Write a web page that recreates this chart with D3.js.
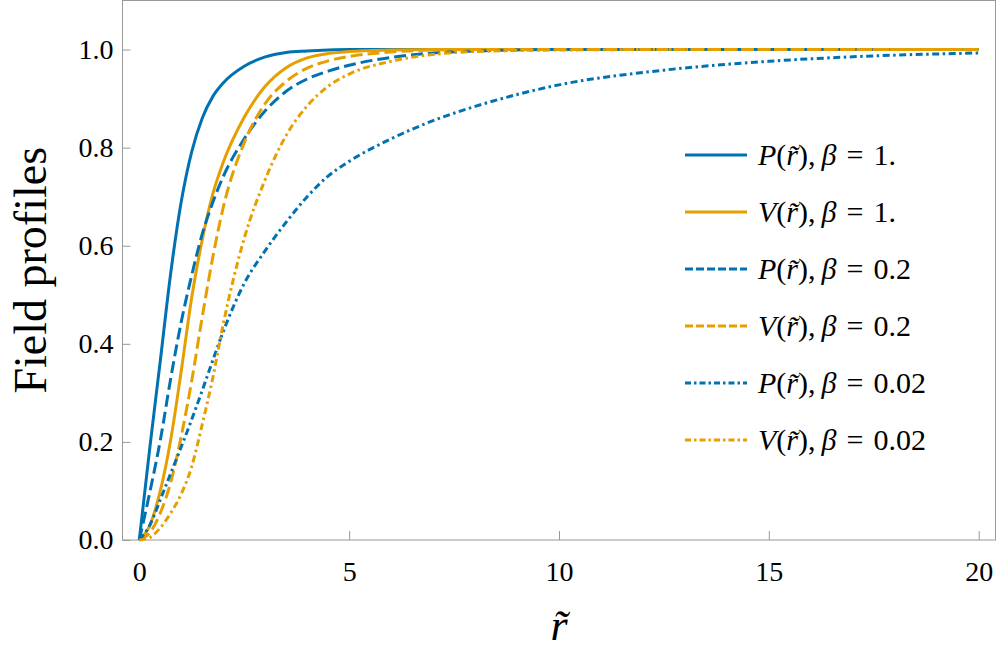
<!DOCTYPE html>
<html>
<head>
<meta charset="utf-8">
<script src="https://cdn.jsdelivr.net/npm/d3@7"></script>
<style>
  body { margin: 0; background: #fff; }
  svg, svg text { font-family: "Liberation Serif", "Times New Roman", serif !important; }
  .axis text { fill: #000; }
</style>
</head>
<body>
<svg width="997" height="662"></svg>
<script>
var rGrid = [0, 0.25, 0.5, 0.75, 1, 1.25, 1.5, 1.75, 2, 2.5, 3, 3.5, 4, 4.5, 5, 6, 7, 8, 10, 12.5, 15, 17.5, 20];

var P_b1   = [0, 0.1875, 0.365, 0.545, 0.69, 0.792, 0.86, 0.904, 0.932, 0.966, 0.985, 0.994, 0.997, 0.999, 1, 1, 1, 1, 1, 1, 1, 1, 1];
var V_b1   = [0, 0.03, 0.10, 0.205, 0.345, 0.495, 0.612, 0.705, 0.77, 0.862, 0.925, 0.963, 0.983, 0.992, 0.996, 0.999, 1, 1, 1, 1, 1, 1, 1];
var P_b02  = [0, 0.097, 0.203, 0.33, 0.445, 0.54, 0.624, 0.688, 0.741, 0.818, 0.875, 0.915, 0.94, 0.956, 0.968, 0.984, 0.993, 0.997, 1, 1, 1, 1, 1];
var V_b02  = [0, 0.015, 0.055, 0.118, 0.212, 0.325, 0.455, 0.576, 0.678, 0.81, 0.89, 0.935, 0.962, 0.977, 0.986, 0.995, 0.999, 1, 1, 1, 1, 1, 1];
var P_b002 = [0, 0.03, 0.082, 0.136, 0.19, 0.246, 0.305, 0.366, 0.425, 0.523, 0.59, 0.648, 0.70, 0.742, 0.772, 0.818, 0.855, 0.884, 0.928, 0.958, 0.976, 0.987, 0.993];
var V_b002 = [0, 0.005, 0.025, 0.055, 0.094, 0.15, 0.236, 0.33, 0.44, 0.615, 0.735, 0.825, 0.885, 0.925, 0.95, 0.976, 0.99, 0.996, 0.999, 1, 1, 1, 1];

var seriesField = ["P", "V", "P", "V", "P", "V"];
var seriesBeta  = ["1.", "1.", "0.2", "0.2", "0.02", "0.02"];
var seriesVals  = [P_b1, V_b1, P_b02, V_b02, P_b002, V_b002];

var xTicks = [0, 5, 10, 15, 20];
var yTicks = [0, 0.2, 0.4, 0.6, 0.8, 1.0];

var blue = "#0072b2", orange = "#e69f00";
var colors = [blue, orange, blue, orange, blue, orange];
var dashPlot = [null, null, "12,5", "12,5", "7,3.5,2.5,3.5", "7,3.5,2.5,3.5"];
var dashKey  = [null, null, "8,3", "8,3", "6,3,2.5,3", "6,3,2.5,3"];

var svg = d3.select("svg"),
    margin = {top: 0.5, right: 1.5, bottom: 122, left: 122.5},
    width = +svg.attr("width") - margin.left - margin.right,
    height = +svg.attr("height") - margin.top - margin.bottom;

var x = d3.scaleLinear().domain([-0.4, 20.4]).range([0, width]);
var y = d3.scaleLinear().domain([0, 1.1]).range([height, 0]);

var g = svg.append("g")
    .attr("transform", "translate(" + margin.left + "," + margin.top + ")");

// x axis, ticks pointing in
var xa = g.append("g")
    .attr("class", "x axis")
    .attr("transform", "translate(0," + height + ")")
    .call(d3.axisBottom(x).tickValues(xTicks).tickSizeInner(-9).tickSizeOuter(0).tickPadding(21));
xa.attr("font-family", null).attr("font-size", null);
xa.select(".domain").remove();
xa.selectAll("line").attr("stroke", "#999");
xa.selectAll("text").style("font-size", "28px");

var ya = g.append("g")
    .attr("class", "y axis")
    .call(d3.axisLeft(y).tickValues(yTicks).tickFormat(d3.format(".1f")).tickSizeInner(-8).tickSizeOuter(0).tickPadding(9));
ya.attr("font-family", null).attr("font-size", null);
ya.select(".domain").remove();
ya.selectAll("line").attr("stroke", "#999");
ya.selectAll("text").style("font-size", "28px");

// frame
g.append("rect")
    .attr("x", 0).attr("y", 0)
    .attr("width", width).attr("height", height)
    .attr("fill", "none")
    .attr("stroke", "#999")
    .attr("stroke-width", 1);

var line = d3.line()
    .x(function(d) { return x(d[0]); })
    .y(function(d) { return y(d[1]); })
    .curve(d3.curveMonotoneX);

seriesVals.forEach(function(vals, i) {
    g.append("path")
        .datum(rGrid.map(function(r, k) { return [r, vals[k]]; }))
        .attr("fill", "none")
        .attr("stroke", colors[i])
        .attr("stroke-width", 3)
        .attr("stroke-dasharray", dashPlot[i])
        .attr("d", line);
});

// legend
var leg = svg.append("g").attr("transform", "translate(685,155)");
seriesField.forEach(function(f, i) {
    var row = leg.append("g").attr("transform", "translate(0," + (i * 57) + ")");
    row.append("line")
        .attr("x1", 0).attr("x2", 62)
        .attr("stroke", colors[i])
        .attr("stroke-width", 3)
        .attr("stroke-dasharray", dashKey[i]);
    var t = row.append("text")
        .attr("x", 73).attr("y", 10)
        .style("font-size", "30px");
    t.append("tspan").attr("font-style", "italic").text(f);
    t.append("tspan").text("(");
    t.append("tspan").attr("font-style", "italic").text("r\u0303");
    t.append("tspan").text("),\u2009");
    t.append("tspan").attr("font-style", "italic").text("\u03b2");
    t.append("tspan").text("\u2004=\u2004" + seriesBeta[i]);
});

// axis titles
svg.append("text")
    .attr("x", margin.left + width / 2)
    .attr("y", 640)
    .attr("text-anchor", "middle")
    .style("font-size", "44px")
    .attr("font-style", "italic")
    .text("r\u0303");

svg.append("text")
    .attr("transform", "translate(46," + (margin.top + height / 2) + ") rotate(-90)")
    .attr("text-anchor", "middle")
    .style("font-size", "46px")
    .text("Field profiles");
</script>
</body>
</html>
